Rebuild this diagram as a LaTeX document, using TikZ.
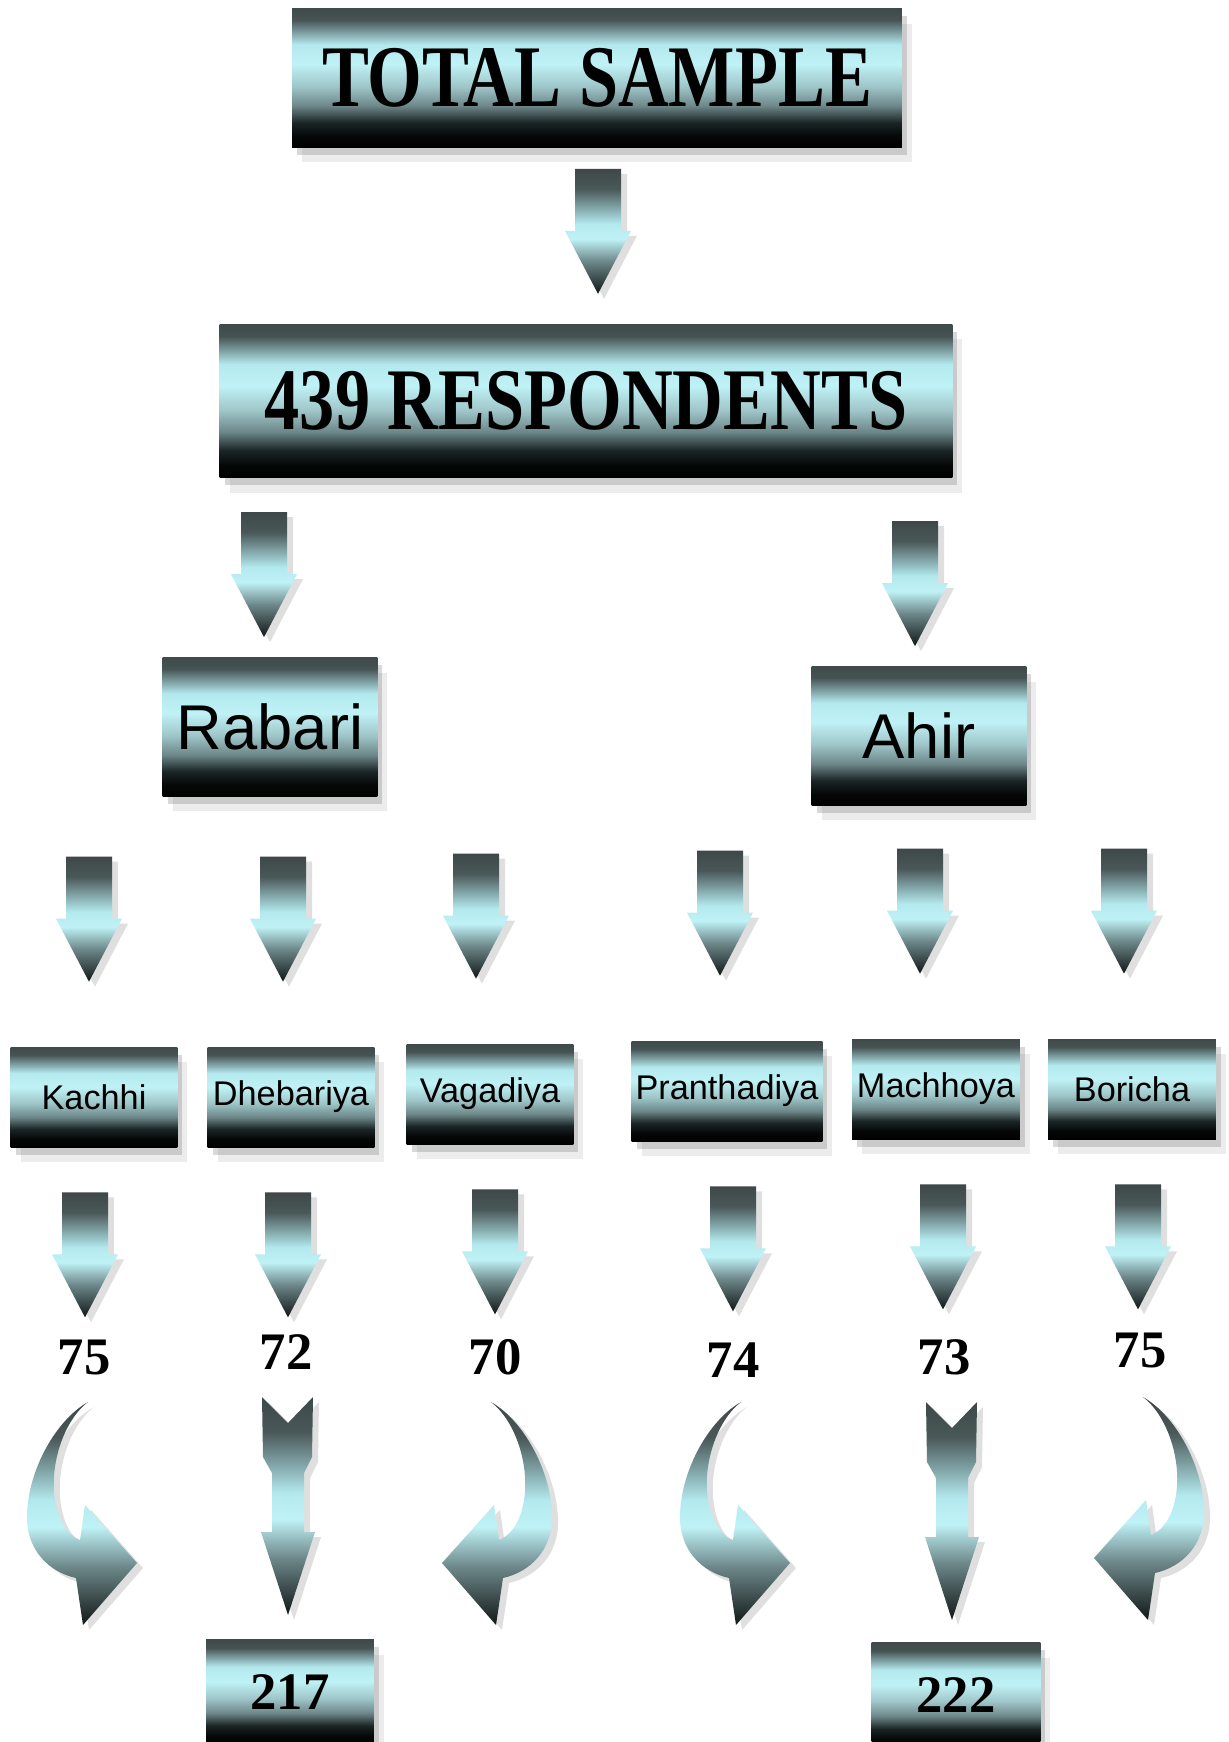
\documentclass[tikz,border=0pt]{standalone}
\usepackage{fontspec}
\setmainfont{Liberation Serif}
\setsansfont{Liberation Sans}
\newfontfamily\decofont[FakeStretch=0.8]{Liberation Serif}
\usetikzlibrary{positioning,calc,shadows}

\definecolor{topgray}{HTML}{3F4A4A}
\definecolor{midcyan}{HTML}{B3E9EE}
\definecolor{lightcyan}{HTML}{BFF2F6}
\definecolor{steel}{HTML}{9FC6C9}
\definecolor{slate}{HTML}{6D8789}
\definecolor{deepgray}{HTML}{1B2526}
\definecolor{arrowtop}{HTML}{3E4848}
\definecolor{tipdark}{HTML}{111717}

\pgfdeclareverticalshading{metalbox}{100bp}{color(0bp)=(black); color(25bp)=(black); color(29bp)=(black!95!slate); color(34bp)=(deepgray); color(40bp)=(slate); color(47bp)=(steel); color(55bp)=(lightcyan); color(62bp)=(midcyan); color(71bp)=(topgray!85!slate); color(75bp)=(topgray); color(100bp)=(topgray)}
\pgfdeclareverticalshading{metalarrow}{100bp}{color(0bp)=(tipdark); color(25bp)=(tipdark); color(38bp)=(slate); color(47bp)=(lightcyan); color(53bp)=(midcyan); color(67bp)=(arrowtop!75!slate); color(75bp)=(arrowtop); color(100bp)=(arrowtop)}

\begin{document}
\begin{tikzpicture}[x=0.02cm, y=-0.02cm,
  box/.style={inner sep=0pt, shade, shading=metalbox,
    drop shadow={shadow xshift=1mm, shadow yshift=-1.5mm, opacity=.3},
    drop shadow={shadow xshift=2mm, shadow yshift=-3mm, opacity=.15}},
  deco/.style={font=\decofont\bfseries\fontsize{50}{56}\selectfont},
  lbl/.style={font=\sffamily\fontsize{36}{40}\selectfont},
  sublbl/.style={font=\sffamily\fontsize{19.5}{22}\selectfont},
  num/.style={font=\bfseries\fontsize{30}{34}\selectfont},
  arrowbody/.style={shade, shading=metalarrow,
    drop shadow={shadow xshift=1.2mm, shadow yshift=-1mm, opacity=.25}},
  downarr/.pic={\path[arrowbody] (-23,0) -- (23,0) -- (23,62) -- (33,62) -- (0,125) -- (-33,62) -- (-23,62) -- cycle;},
  tailarr/.pic={\path[arrowbody] (-26,0) -- (0,26) -- (25,0) -- (24,60) -- (16,76) -- (16,135) -- (27,135) -- (0,218)
    -- (-27,135) -- (-16,135) -- (-16,76) -- (-25,60) -- cycle;},
  bendarr/.pic={\path[arrowbody] (4,2) .. controls (-22,22) and (-36,70) .. (-28,105) .. controls (-24,125) and (-14,136) .. (-4,140)
    -- (1,105) -- (53,163) -- (-1,225) -- (-8,178) .. controls (-35,172) and (-58,150) .. (-57,115)
    .. controls (-56,70) and (-28,20) .. (4,2) -- cycle;}
]
\path[use as bounding box, fill=white] (0,0) rectangle (1229,1742);

% top levels
\node[box, deco, minimum width=12.2cm, minimum height=2.78cm] (total) at (597,78) {TOTAL SAMPLE};
\node[box, deco, minimum width=14.66cm, minimum height=3.08cm] (resp) at (586,401) {439 RESPONDENTS};
\node[box, lbl, minimum width=4.3cm, minimum height=2.78cm] (rabari) at (270,727) {Rabari};
\node[box, lbl, minimum width=4.3cm, minimum height=2.78cm] (ahir) at (919,736) {Ahir};

\pic at ($(total.south)+(1,21)$) {downarr};
\pic at ($(rabari.north)+(-6,-145)$) {downarr};
\pic at ($(ahir.north)+(-4,-145)$) {downarr};

% sub-castes
\node[box, sublbl, minimum width=3.34cm, minimum height=2cm] (kachhi) at (94,1097) {Kachhi};
\node[box, sublbl, minimum width=3.34cm, minimum height=2cm] (dheb) at (291,1097) {Dhebariya};
\node[box, sublbl, minimum width=3.34cm, minimum height=2cm] (vaga) at (490,1094) {Vagadiya};
\node[box, sublbl, minimum width=3.82cm, minimum height=2cm] (pran) at (727,1091) {Pranthadiya};
\node[box, sublbl, minimum width=3.36cm, minimum height=2cm] (mach) at (936,1089) {Machhoya};
\node[box, sublbl, minimum width=3.36cm, minimum height=2cm] (bori) at (1132,1089) {Boricha};

\foreach \b/\dx in {kachhi/-5, dheb/-8, vaga/-14, pran/-7, mach/-16, bori/-8}
  \pic at ($(\b.north)+(\dx,-190)$) {downarr};
\foreach \b/\dx in {kachhi/-9, dheb/-3, vaga/5, pran/6, mach/7, bori/6}
  \pic at ($(\b.south)+(\dx,45)$) {downarr};

% counts
\node[num] (n1) at (84,1357) {75};
\node[num] (n2) at (286,1352) {72};
\node[num] (n3) at (495,1357) {70};
\node[num] (n4) at (733,1360) {74};
\node[num] (n5) at (944,1357) {73};
\node[num] (n6) at (1140,1350) {75};

\pic at ($(n1)+(0,43)$) {bendarr};
\pic at ($(n2)+(2,45)$) {tailarr};
\pic[xscale=-1] at ($(n3)+(0,43)$) {bendarr};
\pic at ($(n4)+(4,40)$) {bendarr};
\pic at ($(n5)+(8,45)$) {tailarr};
\pic[xscale=-1] at ($(n6)+(7,45)$) {bendarr};

% totals
\node[box, num, minimum width=3.36cm, minimum height=2.1cm] (rtotal) at (290,1692) {217};
\node[box, num, minimum width=3.38cm, minimum height=2.1cm] (atotal) at (956,1695) {222};

\end{tikzpicture}
\end{document}
